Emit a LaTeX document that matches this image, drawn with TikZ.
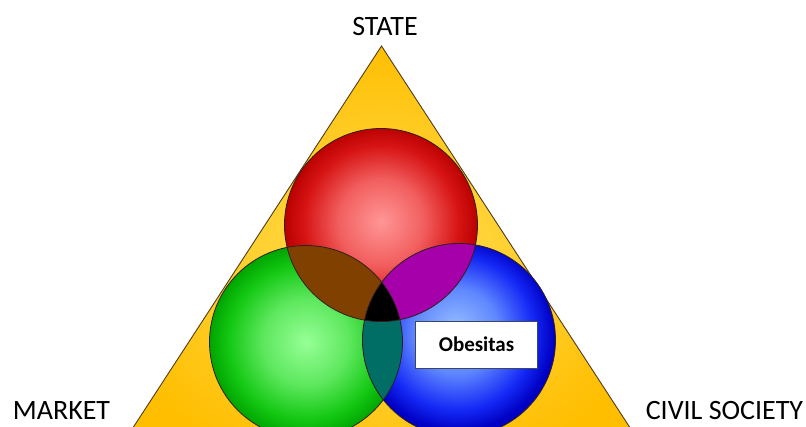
\documentclass[tikz,border=0pt]{standalone}
\usepackage{fontspec}
\setmainfont{Carlito}

% colours
\definecolor{triOuter}{RGB}{255,190,0}
\definecolor{triInner}{RGB}{255,224,90}
\definecolor{triLine}{RGB}{80,60,30}

\definecolor{redC}{RGB}{255,150,150}
\definecolor{redA}{RGB}{242,95,95}
\definecolor{redM}{RGB}{215,20,20}
\definecolor{redE}{RGB}{185,0,0}

\definecolor{grnC}{RGB}{150,255,150}
\definecolor{grnA}{RGB}{95,232,95}
\definecolor{grnM}{RGB}{20,200,20}
\definecolor{grnE}{RGB}{0,165,0}

\definecolor{bluC}{RGB}{150,190,255}
\definecolor{bluA}{RGB}{95,135,255}
\definecolor{bluM}{RGB}{20,40,245}
\definecolor{bluE}{RGB}{0,0,195}

\definecolor{rgMix}{RGB}{128,64,0}
\definecolor{rbMix}{RGB}{165,0,170}
\definecolor{gbMix}{RGB}{0,110,100}
\definecolor{ringLine}{RGB}{50,30,30}
\definecolor{boxLine}{RGB}{60,70,95}

% shadings
\pgfdeclareradialshading{trishade}{\pgfpoint{0bp}{-4bp}}%
  {color(0bp)=(triInner); color(28bp)=(triOuter); color(60bp)=(triOuter)}
\pgfdeclareradialshading{redball}{\pgfpoint{0bp}{1bp}}%
  {color(0bp)=(redC); color(11bp)=(redA); color(20bp)=(redM); color(25bp)=(redE); color(50bp)=(redE)}
\pgfdeclareradialshading{grnball}{\pgfpoint{0bp}{0bp}}%
  {color(0bp)=(grnC); color(11bp)=(grnA); color(20bp)=(grnM); color(25bp)=(grnE); color(50bp)=(grnE)}
\pgfdeclareradialshading{bluball}{\pgfpoint{-1bp}{3bp}}%
  {color(0bp)=(bluC); color(11bp)=(bluA); color(20bp)=(bluM); color(25bp)=(bluE); color(50bp)=(bluE)}

\tikzset{
  corner label/.style={font=\fontsize{28}{28}\selectfont, text=black, anchor=base, inner sep=0pt},
  ring/.style={draw=ringLine, line width=0.8pt},
  tagbox/.style={draw=boxLine, line width=1pt, fill=white, minimum width=121.6pt,
    minimum height=47.3pt, inner sep=0pt, font=\bfseries\fontsize{21}{21}\selectfont}
}

\begin{document}
\begin{tikzpicture}[x=1pt, y=-1pt]
  \useasboundingbox (0,0) rectangle (806,426);
  \clip (0,0) rectangle (806,426);

  % corner points of the triangle and circle centres
  \coordinate (apex) at (381.5,46);
  \coordinate (lowL) at (125,440);
  \coordinate (lowR) at (638,440);
  \def\rad{96.5}
  \coordinate (R) at (381,225);
  \coordinate (G) at (306,342);
  \coordinate (B) at (459,340);

  % yellow triangle
  \path[shading=trishade, draw=triLine, line width=0.9pt]
    (apex) -- (lowR) -- (lowL) -- cycle;

  % the three shaded circles
  \path[shading=redball] (R) circle (\rad);
  \path[shading=grnball] (G) circle (\rad);
  \path[shading=bluball] (B) circle (\rad);

  % pairwise overlaps
  \begin{scope}
    \clip (R) circle (\rad);
    \fill[rgMix] (G) circle (\rad);
    \fill[rbMix] (B) circle (\rad);
  \end{scope}
  \begin{scope}
    \clip (G) circle (\rad);
    \fill[gbMix] (B) circle (\rad);
  \end{scope}
  % common overlap
  \begin{scope}
    \clip (R) circle (\rad);
    \clip (G) circle (\rad);
    \fill[black] (B) circle (\rad);
  \end{scope}

  % outlines
  \draw[ring] (R) circle (\rad);
  \draw[ring] (G) circle (\rad);
  \draw[ring] (B) circle (\rad);

  % labels
  \node[corner label] (state) at (385,35) {STATE};
  \node[corner label] (market) at (61.5,419.5) {MARKET};
  \node[corner label] (civil) at (724.5,419.5) {CIVIL SOCIETY};

  \node[tagbox] (obes) at (476.5,344.7) {Obesitas};
\end{tikzpicture}
\end{document}
